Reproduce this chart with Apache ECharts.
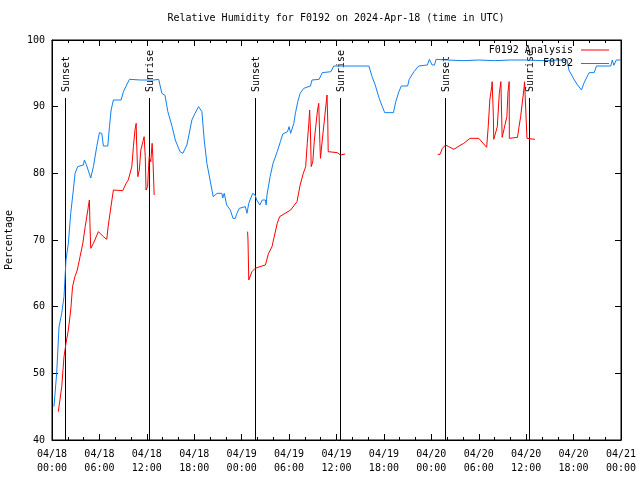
<!DOCTYPE html>
<html>
<head>
<meta charset="utf-8">
<script src="https://cdn.jsdelivr.net/npm/echarts@6/dist/echarts.min.js"></script>
<style>html,body{margin:0;padding:0;background:#fff}#chart{width:640px;height:480px}</style>
</head>
<body>
<div id="chart"></div>
<script>
// ---- data (hours since 2024-04-18 00:00 UTC) ----
const titleText = 'Relative Humidity for F0192 on 2024-Apr-18 (time in UTC)';
const yAxisName = 'Percentage';
const xTickLabels = ['04/18\n00:00','04/18\n06:00','04/18\n12:00','04/18\n18:00',
  '04/19\n00:00','04/19\n06:00','04/19\n12:00','04/19\n18:00',
  '04/20\n00:00','04/20\n06:00','04/20\n12:00','04/20\n18:00','04/21\n00:00'];
const seriesNames = ['F0192 Analysis', 'F0192'];

const blueHours = [0.25,0.59,0.89,1.23,1.52,1.77,2.07,2.37,2.7,2.92,3.25,3.97,4.1,4.35,4.9,5.24,5.66,6.0,6.3,6.5,
  7.06,7.27,7.48,7.77,8.75,9.04,9.38,9.8,11.2,12.9,13.5,13.9,14.3,14.66,15.2,15.6,16.2,16.56,17.07,17.7,
  18.1,18.55,18.97,19.26,19.6,20.0,20.4,20.9,21.5,21.6,21.8,22.1,22.56,22.9,23.2,23.4,23.7,24.46,24.67,24.9,
  25.4,25.7,25.9,26.3,26.6,27.0,27.1,27.2,27.6,27.97,28.5,28.9,29.2,29.8,30.0,30.2,30.4,30.6,30.8,31.1,
  31.4,31.85,32.7,32.9,33.8,34.2,35.3,35.65,40.1,40.5,40.9,41.4,41.8,42.1,43.2,43.5,43.9,44.2,45.0,45.2,
  45.8,46.4,47.5,47.75,48.1,48.4,48.6,50,52,54,56,58,60,62,64,65.2,65.4,66.1,66.5,67.0,
  67.3,67.96,68.6,68.9,70.7,70.9,71.1,71.4,72];
const blueValues = [45.0,50.0,57,59,61.5,67,69.5,74,77.5,80,81,81.25,82,81.3,79.3,81,84,86.1,86,84.1,
  84.1,87,89.5,91,91,92.25,93.1,94.1,94,94,94.1,92,91.7,89.25,87,85,83.25,83,84.25,88,
  89,90,89.25,85,81.5,79,76.5,77,77,76.3,77,75.25,74.5,73.25,73.25,74,74.75,75,74,75.5,
  77,76.75,76,75.25,76,76,75.25,76.75,79.5,81.5,83.25,84.75,85.9,86.25,87,86,86.25,87.5,89,90.75,
  92,92.75,93.1,94,94.1,95.1,95.25,96.1,96.1,94.5,93.25,91.25,90,89.1,89.1,90.75,92.25,93.1,93.1,94.1,
  95.25,96.1,96.25,97.1,96.25,96.25,97.1,97,96.9,97,96.9,97,97,96.9,97,97,95.5,94,93.25,92.5,
  93.5,95.1,95.1,96.1,96.1,97,96.2,97,97];

// null value = gap in the analysis record
const redHours = [0.8,1.0,1.23,1.52,1.77,2.07,2.37,2.6,2.9,3.2,3.55,3.9,4.2,4.4,4.6,4.73,4.8,4.9,5.24,5.87,
  6.5,6.93,7.1,7.4,7.77,8.95,9.38,9.65,9.9,10.1,10.3,10.5,10.65,10.7,10.86,11.05,11.24,11.5,11.66,11.8,
  11.9,12.1,12.2,12.3,12.5,12.67,12.76,12.93,
  18,
  24.75,24.8,24.9,25.3,25.7,26.3,27.0,27.4,27.84,28.1,28.5,28.8,29.5,30.2,31.0,31.4,31.8,32.1,32.3,32.5,
  32.6,32.7,32.8,33.0,33.2,33.46,33.6,33.75,33.9,33.97,34.2,34.4,34.6,34.8,34.9,34.95,36.1,36.5,36.7,37.1,
  43,
  48.8,49.1,49.4,49.8,50.2,50.86,51.5,52.1,52.9,54.0,55.0,55.2,55.4,55.64,55.7,55.85,55.9,56.1,56.35,56.6,
  56.8,56.96,57.2,57.56,57.7,57.85,57.87,58.9,59.1,59.3,59.55,59.7,59.8,60.1,61.1];
const redValues = [44.25,44.25,48,52.5,54.5,56.5,59.5,63,64.5,65.5,67.5,69.5,72,73.5,75,76,72.5,68.75,69.5,71.25,
  70.5,70.1,72,74.5,77.5,77.4,78.5,79,79,81,84,86.5,87.5,85,79.5,80.5,83.5,84.75,85.5,82.5,
  77.5,78,80.5,82.5,81.75,84.5,82.5,76.75,
  null,
  71.25,70,64,65.25,65.75,66,66.25,68,69,70.4,72.5,73.5,74,74.5,75.75,78.25,80,81,84.5,87.5,
  89.5,86.5,81,81.75,85,88,89.5,90.5,84.5,82.25,85,87.25,89.5,91.75,87.5,83.25,83.1,82.75,82.5,82.9,
  null,
  82.85,82.85,83.75,84.25,84,83.6,84.1,84.5,85.25,85.25,83.9,87,91,93,93.75,88.5,85.1,85.1,87,92,
  93.75,85.4,85.25,88.5,92.25,93.75,85.25,85.4,87,88.5,91,92.5,93.75,85.25,85.1];

const sunHours = [1.69, 12.3, 25.65, 36.38, 49.73, 60.3];
const sunLabels = ['Sunset','Sunrise','Sunset','Sunrise','Sunset','Sunrise'];
const sunLineTop = 91.3;

const yMin = 40, yMax = 100, xMin = 0, xMax = 72;

// ---- chart ----
const FONT = 'DejaVu Sans Mono';
const chart = echarts.init(document.getElementById('chart'), null, {renderer: 'canvas'});

const bluePairs = blueHours.map((h, i) => [h, blueValues[i]]);
const redPairs = redHours.map((h, i) => [h, redValues[i]]);
const sunPairs = sunHours.map(h => [h, sunLineTop]);

const baseX = {
  type: 'value', min: xMin, max: xMax, interval: 6,
  axisLine: {show: true, onZero: false, lineStyle: {color: '#000', width: 1}},
  axisTick: {show: true, inside: true, length: 6, lineStyle: {color: '#000'}},
  minorTick: {show: true, splitNumber: 3, length: 3, lineStyle: {color: '#000'}},
  splitLine: {show: false}
};
const baseY = {
  type: 'value', min: yMin, max: yMax, interval: 10,
  axisLine: {show: true, onZero: false, lineStyle: {color: '#000', width: 1}},
  axisTick: {show: true, inside: true, length: 6, lineStyle: {color: '#000'}},
  splitLine: {show: false}
};

chart.setOption({
  animation: false,
  backgroundColor: '#fff',
  title: {
    text: titleText, left: 336, top: 13, textAlign: 'center', padding: 0,
    textStyle: {fontFamily: FONT, fontSize: 10, fontWeight: 'normal', color: '#000'}
  },
  legend: {
    data: seriesNames.map(n => ({name: n, icon: 'rect'})),
    orient: 'vertical', right: 31, top: 44, padding: 0,
    align: 'right', itemWidth: 28, itemHeight: 1, itemGap: 1.5,
    textStyle: {fontFamily: FONT, fontSize: 10, color: '#000', lineHeight: 12, padding: [0, 3, 0, 0]}
  },
  grid: {left: 52, right: 19, top: 40, bottom: 40, containLabel: false, outerBoundsMode: 'none',
    show: true, borderColor: '#000', borderWidth: 1, backgroundColor: 'transparent'},
  xAxis: [
    Object.assign({}, baseX, {
      position: 'bottom',
      axisLabel: {show: true, margin: 7, fontFamily: FONT, fontSize: 10, color: '#000', lineHeight: 14,
        formatter: v => xTickLabels[Math.round(v / 6)] || ''}
    }),
    Object.assign({}, baseX, {position: 'top', axisLabel: {show: false}})
  ],
  yAxis: [
    Object.assign({}, baseY, {
      position: 'left', name: yAxisName, nameLocation: 'middle', nameGap: 38,
      nameTextStyle: {fontFamily: FONT, fontSize: 10, color: '#000'},
      axisLabel: {show: true, margin: 7, fontFamily: FONT, fontSize: 10, color: '#000'}
    }),
    Object.assign({}, baseY, {position: 'right', axisLabel: {show: false}})
  ],
  series: [
    {
      name: seriesNames[0], type: 'line', data: redPairs, symbol: 'none', connectNulls: false,
      lineStyle: {color: '#ff0000', width: 1}, itemStyle: {color: '#ff0000'}, z: 3
    },
    {
      name: seriesNames[1], type: 'line', data: bluePairs, symbol: 'none',
      lineStyle: {color: '#1080f0', width: 1}, itemStyle: {color: '#1080f0'}, z: 3
    },
    {
      name: 'sun', type: 'custom', data: sunPairs, silent: true, z: 2,
      renderItem: (params, api) => {
        const top = api.coord([api.value(0), api.value(1)]);
        const bot = api.coord([api.value(0), yMin]);
        const x = Math.round(top[0]) + 0.5;
        return {
          type: 'group',
          children: [
            {type: 'line', shape: {x1: x, y1: top[1], x2: x, y2: bot[1]}, style: {stroke: '#000', lineWidth: 1}},
            {type: 'text', x: x + 1, y: top[1] - 6, rotation: Math.PI / 2,
              style: {text: sunLabels[params.dataIndex], fill: '#000', font: '10px "' + FONT + '"',
                align: 'left', verticalAlign: 'middle'}}
          ]
        };
      }
    }
  ]
});
</script>
</body>
</html>
